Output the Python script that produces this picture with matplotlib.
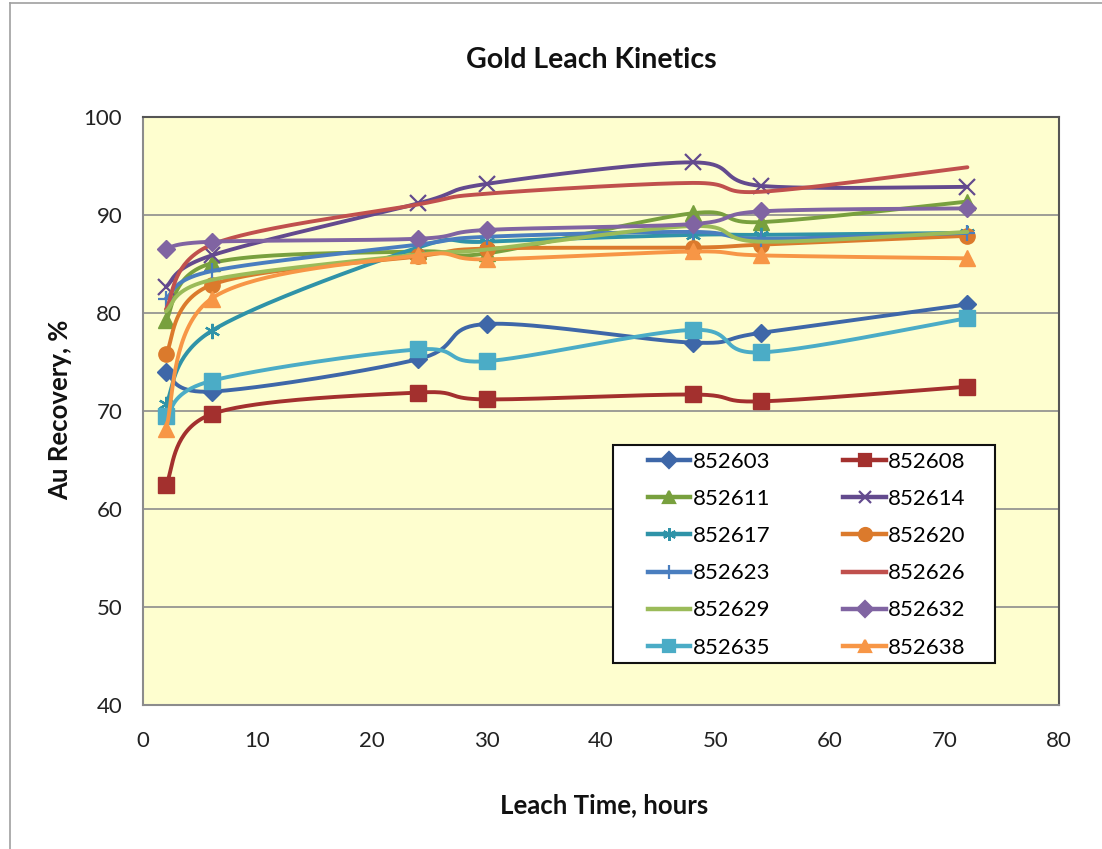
import numpy as np
import matplotlib
matplotlib.use("Agg")
import matplotlib.pyplot as plt
from matplotlib.lines import Line2D
from matplotlib.patches import Rectangle

# ---- data ----
leach_time = [2, 6, 24, 30, 48, 54, 72]
series_names = ["852603", "852608", "852611", "852614", "852617", "852620",
                "852623", "852626", "852629", "852632", "852635", "852638"]
s852603 = [74.0, 72.0, 75.3, 78.9, 77.0, 78.0, 80.9]
s852608 = [62.5, 69.7, 71.9, 71.2, 71.7, 71.0, 72.5]
s852611 = [79.3, 85.1, 86.3, 86.1, 90.2, 89.3, 91.4]
s852614 = [82.7, 85.9, 91.2, 93.2, 95.4, 93.0, 92.9]
s852617 = [70.7, 78.2, 86.7, 87.3, 88.0, 88.0, 88.2]
s852620 = [75.8, 82.9, 85.8, 86.6, 86.7, 87.0, 87.9]
s852623 = [81.5, 84.3, 87.0, 87.8, 88.3, 87.6, 88.2]
s852626 = [80.4, 87.0, 91.1, 92.2, 93.3, 92.4, 94.9]
s852629 = [80.2, 83.4, 86.0, 86.5, 88.9, 87.3, 88.3]
s852632 = [86.6, 87.3, 87.6, 88.5, 89.1, 90.4, 90.7]
s852635 = [69.5, 73.1, 76.3, 75.1, 78.3, 76.0, 79.5]
s852638 = [68.2, 81.5, 85.9, 85.5, 86.3, 85.9, 85.6]
series_values = [s852603, s852608, s852611, s852614, s852617, s852620,
                 s852623, s852626, s852629, s852632, s852635, s852638]
y_ticks = [40, 50, 60, 70, 80, 90, 100]
x_ticks = [0, 10, 20, 30, 40, 50, 60, 70, 80]

# ---- styles ----
colors = ["#3E67A8", "#A3302E", "#78A03E", "#634A8E", "#2F93A8", "#DB7A2C",
          "#4A7EBF", "#C0504D", "#9BBB59", "#8064A2", "#4BACC6", "#F79646"]
markers = ["D", "s", "^", "x", (6, 2, 0), "o", "+", None, None, "D", "s", "^"]
msizes = [9, 11, 11, 11, 11, 11, 12, 0, 0, 9, 11, 11]


def smooth(xs, ys, n=40):
    P = np.column_stack([xs, ys]).astype(float)
    P_ext = np.vstack([P[0], P, P[-1]])
    out = []
    for i in range(len(P) - 1):
        p0, p1, p2, p3 = P_ext[i], P_ext[i + 1], P_ext[i + 2], P_ext[i + 3]
        c1 = p1 + (p2 - p0) / 6.0
        c2 = p2 - (p3 - p1) / 6.0
        t = np.linspace(0, 1, n)[:, None]
        seg = ((1 - t) ** 3) * p1 + 3 * ((1 - t) ** 2) * t * c1 + 3 * (1 - t) * t ** 2 * c2 + t ** 3 * p2
        out.append(seg if i == 0 else seg[1:])
    arr = np.vstack(out)
    return arr[:, 0], arr[:, 1]


plt.rcParams['font.family'] = ['Lato', 'DejaVu Sans']

fig = plt.figure(figsize=(11.02, 8.49), dpi=100)
AX_L, AX_R, AX_T, AX_B = 143, 1059, 117.3, 705
ax = fig.add_axes([AX_L / 1102, 1 - AX_B / 849, (AX_R - AX_L) / 1102, (AX_B - AX_T) / 849])
ax.set_facecolor("#FEFECF")


def ax_x(px):
    return (px - AX_L) / (AX_R - AX_L)


def ax_y(py):
    return (AX_B - py) / (AX_B - AX_T)


handles = []
for i, (name, vals) in enumerate(zip(series_names, series_values)):
    sx, sy = smooth(leach_time, vals)
    ax.plot(sx, sy, color=colors[i], lw=2.8, solid_capstyle='round', zorder=3 + i * 0.1)
    if markers[i] is not None:
        mk = markers[i]
        thin = mk in ("x", "+") or isinstance(mk, tuple)
        ax.plot(leach_time, vals, linestyle='none', marker=mk, markersize=msizes[i],
                color=colors[i], mec=colors[i], mew=1.6 if thin else 1.0, zorder=3 + i * 0.1)
    handles.append(Line2D([], [], color=colors[i], lw=3.2, marker=markers[i],
                          markersize=msizes[i] * 0.85, mew=1.6, mec=colors[i]))

ax.set_xlim(0, 80)
ax.set_ylim(40, 100)
ax.set_xticks(x_ticks)
ax.set_yticks(y_ticks)
ax.tick_params(axis='both', length=0, labelsize=16, colors="#222222")
ax.tick_params(axis='x', pad=19)
ax.tick_params(axis='y', pad=15)
ax.yaxis.grid(True, color="#8C8C8C", lw=1.2)
ax.set_axisbelow(True)
for side in ["left", "bottom"]:
    ax.spines[side].set_color("#8C8C8C")
    ax.spines[side].set_linewidth(1.5)
for side in ["top", "right"]:
    ax.spines[side].set_color("#555555")
    ax.spines[side].set_linewidth(1.5)

fig.text(591 / 1102, 1 - 60 / 849, "Gold Leach Kinetics", ha='center', va='center',
         fontsize=20.5, fontweight='bold', color="#111111")
fig.text(604 / 1102, 1 - 805 / 849, "Leach Time, hours", ha='center', va='center',
         fontsize=18.5, fontweight='bold', color="#111111")
fig.text(60 / 1102, 1 - 410 / 849, "Au Recovery, %", ha='center', va='center',
         rotation=90, fontsize=18.5, fontweight='bold', color="#111111")

# legend frame
frame = Rectangle((ax_x(613), ax_y(663)), ax_x(995) - ax_x(613), ax_y(445) - ax_y(663),
                  transform=ax.transAxes, facecolor="white", edgecolor="#111111",
                  lw=1.5, zorder=9)
ax.add_patch(frame)

order = list(range(0, 12, 2)) + list(range(1, 12, 2))
leg = ax.legend([handles[k] for k in order], [series_names[k] for k in order],
                ncol=2, loc='upper left',
                bbox_to_anchor=(ax_x(648), ax_y(452)),
                fontsize=16, frameon=False,
                handlelength=1.9, handletextpad=0.1,
                numpoints=1, borderaxespad=0, labelspacing=0.77, borderpad=0,
                columnspacing=3.3)
leg.set_zorder(10)

# outer chart-area border
fig.add_artist(Line2D([10 / 1102, 10 / 1102], [0, 1 - 3 / 849], color="#A0A0A0", lw=1.2,
                      transform=fig.transFigure))
fig.add_artist(Line2D([10 / 1102, 1], [1 - 3 / 849, 1 - 3 / 849], color="#A0A0A0", lw=1.2,
                      transform=fig.transFigure))

fig.savefig("out.png", dpi=100)
